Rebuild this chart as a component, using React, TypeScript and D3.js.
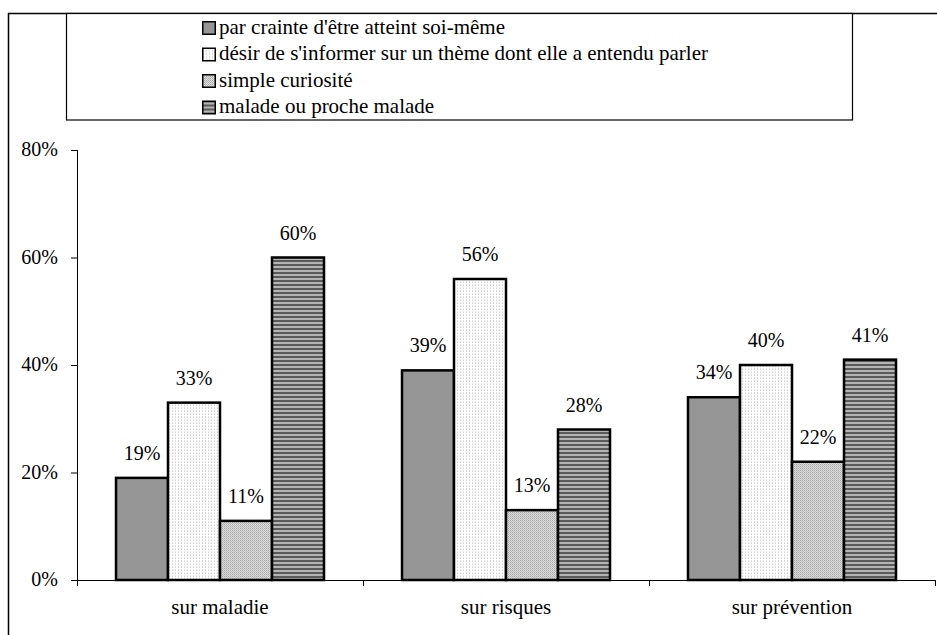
import React from "react";
import * as d3 from "d3";

const categories = ["sur maladie", "sur risques", "sur prévention"];
const seriesNames = [
  "par crainte d'être atteint soi-même",
  "désir de s'informer sur un thème dont elle a entendu parler",
  "simple curiosité",
  "malade ou proche malade",
];
const crainte = [19, 39, 34];
const desir = [33, 56, 40];
const curiosite = [11, 13, 22];
const malade = [60, 28, 41];
const yTicks = [0, 20, 40, 60, 80];

const seriesValues = [crainte, desir, curiosite, malade];
const fills = ["#969696", "url(#pDesir)", "url(#pCur)", "url(#pMal)"];
const FONT = '"Liberation Serif", "DejaVu Serif", serif';
const FS = 20;
const FS_TXT = 21;

export default function App() {
  const W = 937, H = 635;
  const x0 = 77, x1 = 935, yTop = 150, yBot = 580;
  const x = d3.scaleBand().domain(categories).range([x0, x1]).paddingInner(0).paddingOuter(0);
  const y = d3.scaleLinear().domain([0, 80]).range([yBot, yTop]);
  const groupInner = 208;
  const xs = d3.scaleBand().domain(seriesNames).range([0, groupInner]).padding(0);
  const off = (x.bandwidth() - groupInner) / 2;

  return (
    <svg width={W} height={H} style={{ position: "absolute", left: 0, top: 0, background: "#fff", fontFamily: FONT }}>
      <defs>
        <pattern id="pDesir" width="3" height="3" patternUnits="userSpaceOnUse">
          <rect width="3" height="3" fill="#fff" />
          <rect x="1" width="1" height="1" fill="#d0d0d0" />
          <rect x="1" y="2" width="1" height="1" fill="#e0e0e0" />
        </pattern>
        <pattern id="pCur" width="2" height="2" patternUnits="userSpaceOnUse">
          <rect width="2" height="2" fill="#dcdcdc" />
          <rect width="1" height="1" fill="#a8a8a8" />
          <rect x="1" y="1" width="1" height="1" fill="#bcbcbc" />
        </pattern>
        <pattern id="pMal" width="4" height="4" patternUnits="userSpaceOnUse">
          <rect width="4" height="4" fill="#b4b4b4" />
          <rect width="4" height="2" fill="#5a5a5a" />
        </pattern>
      </defs>
      {/* outer frame */}
      <line x1={8.5} y1={13} x2={8.5} y2={H} stroke="#000" strokeWidth={1.5} />
      <line x1={8} y1={13.5} x2={W} y2={13.5} stroke="#000" strokeWidth={1.5} />
      {/* legend */}
      <rect x={66.5} y={13.5} width={786} height={106.5} fill="#fff" stroke="#000" strokeWidth={1.2} />
      {seriesNames.map((s, i) => (
        <g key={s} transform={`translate(202, ${21 + i * 26.5})`}>
          <rect x={0.75} y={0.75} width={12.5} height={12.5} fill={fills[i]} stroke="#000" strokeWidth={1.5} />
          <text x={17} y={12.5} fontSize={FS_TXT} fill="#000">{s}</text>
        </g>
      ))}
      {/* y axis */}
      <line x1={x0 + 0.5} y1={yTop} x2={x0 + 0.5} y2={yBot} stroke="#000" strokeWidth={1} />
      {yTicks.map((t) => (
        <g key={t}>
          <line x1={x0 - 6} x2={x0} y1={y(t) + 0.5} y2={y(t) + 0.5} stroke="#000" />
          <text x={58} y={y(t) + 6} textAnchor="end" fontSize={FS} fill="#000">{t}%</text>
        </g>
      ))}
      {/* bars */}
      {categories.map((c, ci) => (
        <g key={c}>
          {seriesValues.map((vals, si) => {
            const bx = (x(c) as number) + off + (xs(seriesNames[si]) as number);
            const by = y(vals[ci]);
            return (
              <g key={si}>
                <rect x={bx} y={by} width={xs.bandwidth()} height={yBot - by} fill={fills[si]} stroke="#000" strokeWidth={2.5} />
                <text x={bx + xs.bandwidth() / 2} y={by - 18} textAnchor="middle" fontSize={FS} fill="#000">{vals[ci]}%</text>
              </g>
            );
          })}
        </g>
      ))}
      {/* x axis */}
      <line x1={x0} x2={x1} y1={yBot + 0.5} y2={yBot + 0.5} stroke="#000" />
      {[...categories.map((c) => x(c) as number), x1].map((v, i) => (
        <line key={i} x1={v + 0.5} x2={v + 0.5} y1={yBot} y2={yBot + 6} stroke="#000" />
      ))}
      {categories.map((c) => (
        <text key={c} x={(x(c) as number) + x.bandwidth() / 2} y={614} textAnchor="middle" fontSize={FS_TXT} fill="#000">{c}</text>
      ))}
    </svg>
  );
}
